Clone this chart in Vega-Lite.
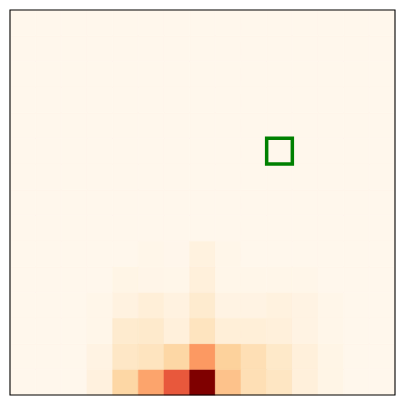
{
  "$schema": "https://vega.github.io/schema/vega-lite/v6.json",
  "width": 385,
  "height": 385,
  "autosize": {"type": "none"},
  "padding": {"left": 10, "top": 10, "right": 10, "bottom": 10},
  "background": "white",
  "config": {"view": {"stroke": null, "fill": "#fff7ec"}},
  "datasets": {
    "cells": [
      {"r":0,"c":0,"v":0},{"r":0,"c":1,"v":0},{"r":0,"c":2,"v":0},{"r":0,"c":3,"v":0.05},{"r":0,"c":4,"v":0.23},{"r":0,"c":5,"v":0.44},{"r":0,"c":6,"v":0.66},{"r":0,"c":7,"v":1},{"r":0,"c":8,"v":0.34},{"r":0,"c":9,"v":0.18},{"r":0,"c":10,"v":0.14},{"r":0,"c":11,"v":0.06},{"r":0,"c":12,"v":0.02},{"r":0,"c":13,"v":0},{"r":0,"c":14,"v":0},
      {"r":1,"c":0,"v":0},{"r":1,"c":1,"v":0},{"r":1,"c":2,"v":0},{"r":1,"c":3,"v":0.03},{"r":1,"c":4,"v":0.13},{"r":1,"c":5,"v":0.15},{"r":1,"c":6,"v":0.23},{"r":1,"c":7,"v":0.47},{"r":1,"c":8,"v":0.26},{"r":1,"c":9,"v":0.18},{"r":1,"c":10,"v":0.12},{"r":1,"c":11,"v":0.06},{"r":1,"c":12,"v":0.02},{"r":1,"c":13,"v":0},{"r":1,"c":14,"v":0},
      {"r":2,"c":0,"v":0},{"r":2,"c":1,"v":0},{"r":2,"c":2,"v":0},{"r":2,"c":3,"v":0.01},{"r":2,"c":4,"v":0.1},{"r":2,"c":5,"v":0.11},{"r":2,"c":6,"v":0.06},{"r":2,"c":7,"v":0.15},{"r":2,"c":8,"v":0.07},{"r":2,"c":9,"v":0.07},{"r":2,"c":10,"v":0.06},{"r":2,"c":11,"v":0.03},{"r":2,"c":12,"v":0.01},{"r":2,"c":13,"v":0},{"r":2,"c":14,"v":0},
      {"r":3,"c":0,"v":0},{"r":3,"c":1,"v":0},{"r":3,"c":2,"v":0},{"r":3,"c":3,"v":0.01},{"r":3,"c":4,"v":0.04},{"r":3,"c":5,"v":0.07},{"r":3,"c":6,"v":0.04},{"r":3,"c":7,"v":0.1},{"r":3,"c":8,"v":0.03},{"r":3,"c":9,"v":0.03},{"r":3,"c":10,"v":0.045},{"r":3,"c":11,"v":0.03},{"r":3,"c":12,"v":0.01},{"r":3,"c":13,"v":0},{"r":3,"c":14,"v":0},
      {"r":4,"c":0,"v":0},{"r":4,"c":1,"v":0},{"r":4,"c":2,"v":0},{"r":4,"c":3,"v":0},{"r":4,"c":4,"v":0.02},{"r":4,"c":5,"v":0.015},{"r":4,"c":6,"v":0.01},{"r":4,"c":7,"v":0.06},{"r":4,"c":8,"v":0.01},{"r":4,"c":9,"v":0.01},{"r":4,"c":10,"v":0.01},{"r":4,"c":11,"v":0.01},{"r":4,"c":12,"v":0},{"r":4,"c":13,"v":0},{"r":4,"c":14,"v":0},
      {"r":5,"c":0,"v":0},{"r":5,"c":1,"v":0},{"r":5,"c":2,"v":0},{"r":5,"c":3,"v":0},{"r":5,"c":4,"v":0},{"r":5,"c":5,"v":0.01},{"r":5,"c":6,"v":0.005},{"r":5,"c":7,"v":0.045},{"r":5,"c":8,"v":0.01},{"r":5,"c":9,"v":0},{"r":5,"c":10,"v":0},{"r":5,"c":11,"v":0},{"r":5,"c":12,"v":0},{"r":5,"c":13,"v":0},{"r":5,"c":14,"v":0},
      {"r":6,"c":0,"v":0},{"r":6,"c":1,"v":0},{"r":6,"c":2,"v":0},{"r":6,"c":3,"v":0},{"r":6,"c":4,"v":0},{"r":6,"c":5,"v":0},{"r":6,"c":6,"v":0},{"r":6,"c":7,"v":0},{"r":6,"c":8,"v":0},{"r":6,"c":9,"v":0},{"r":6,"c":10,"v":0},{"r":6,"c":11,"v":0},{"r":6,"c":12,"v":0},{"r":6,"c":13,"v":0},{"r":6,"c":14,"v":0},
      {"r":7,"c":0,"v":0},{"r":7,"c":1,"v":0},{"r":7,"c":2,"v":0},{"r":7,"c":3,"v":0},{"r":7,"c":4,"v":0},{"r":7,"c":5,"v":0},{"r":7,"c":6,"v":0},{"r":7,"c":7,"v":0},{"r":7,"c":8,"v":0},{"r":7,"c":9,"v":0},{"r":7,"c":10,"v":0},{"r":7,"c":11,"v":0},{"r":7,"c":12,"v":0},{"r":7,"c":13,"v":0},{"r":7,"c":14,"v":0},
      {"r":8,"c":0,"v":0},{"r":8,"c":1,"v":0},{"r":8,"c":2,"v":0},{"r":8,"c":3,"v":0},{"r":8,"c":4,"v":0},{"r":8,"c":5,"v":0},{"r":8,"c":6,"v":0},{"r":8,"c":7,"v":0},{"r":8,"c":8,"v":0},{"r":8,"c":9,"v":0},{"r":8,"c":10,"v":0},{"r":8,"c":11,"v":0},{"r":8,"c":12,"v":0},{"r":8,"c":13,"v":0},{"r":8,"c":14,"v":0},
      {"r":9,"c":0,"v":0},{"r":9,"c":1,"v":0},{"r":9,"c":2,"v":0},{"r":9,"c":3,"v":0},{"r":9,"c":4,"v":0},{"r":9,"c":5,"v":0},{"r":9,"c":6,"v":0},{"r":9,"c":7,"v":0},{"r":9,"c":8,"v":0},{"r":9,"c":9,"v":0},{"r":9,"c":10,"v":0},{"r":9,"c":11,"v":0},{"r":9,"c":12,"v":0},{"r":9,"c":13,"v":0},{"r":9,"c":14,"v":0},
      {"r":10,"c":0,"v":0},{"r":10,"c":1,"v":0},{"r":10,"c":2,"v":0},{"r":10,"c":3,"v":0},{"r":10,"c":4,"v":0},{"r":10,"c":5,"v":0},{"r":10,"c":6,"v":0},{"r":10,"c":7,"v":0},{"r":10,"c":8,"v":0},{"r":10,"c":9,"v":0},{"r":10,"c":10,"v":0},{"r":10,"c":11,"v":0},{"r":10,"c":12,"v":0},{"r":10,"c":13,"v":0},{"r":10,"c":14,"v":0},
      {"r":11,"c":0,"v":0},{"r":11,"c":1,"v":0},{"r":11,"c":2,"v":0},{"r":11,"c":3,"v":0},{"r":11,"c":4,"v":0},{"r":11,"c":5,"v":0},{"r":11,"c":6,"v":0},{"r":11,"c":7,"v":0},{"r":11,"c":8,"v":0},{"r":11,"c":9,"v":0},{"r":11,"c":10,"v":0},{"r":11,"c":11,"v":0},{"r":11,"c":12,"v":0},{"r":11,"c":13,"v":0},{"r":11,"c":14,"v":0},
      {"r":12,"c":0,"v":0},{"r":12,"c":1,"v":0},{"r":12,"c":2,"v":0},{"r":12,"c":3,"v":0},{"r":12,"c":4,"v":0},{"r":12,"c":5,"v":0},{"r":12,"c":6,"v":0},{"r":12,"c":7,"v":0},{"r":12,"c":8,"v":0},{"r":12,"c":9,"v":0},{"r":12,"c":10,"v":0},{"r":12,"c":11,"v":0},{"r":12,"c":12,"v":0},{"r":12,"c":13,"v":0},{"r":12,"c":14,"v":0},
      {"r":13,"c":0,"v":0},{"r":13,"c":1,"v":0},{"r":13,"c":2,"v":0},{"r":13,"c":3,"v":0},{"r":13,"c":4,"v":0},{"r":13,"c":5,"v":0},{"r":13,"c":6,"v":0},{"r":13,"c":7,"v":0},{"r":13,"c":8,"v":0},{"r":13,"c":9,"v":0},{"r":13,"c":10,"v":0},{"r":13,"c":11,"v":0},{"r":13,"c":12,"v":0},{"r":13,"c":13,"v":0},{"r":13,"c":14,"v":0},
      {"r":14,"c":0,"v":0},{"r":14,"c":1,"v":0},{"r":14,"c":2,"v":0},{"r":14,"c":3,"v":0},{"r":14,"c":4,"v":0},{"r":14,"c":5,"v":0},{"r":14,"c":6,"v":0},{"r":14,"c":7,"v":0},{"r":14,"c":8,"v":0},{"r":14,"c":9,"v":0},{"r":14,"c":10,"v":0},{"r":14,"c":11,"v":0},{"r":14,"c":12,"v":0},{"r":14,"c":13,"v":0},{"r":14,"c":14,"v":0}
    ],
    "highlight": [{"r": 9, "c": 10}],
    "frame": [{"k": 1}]
  },
  "layer": [
    {
      "data": {"name": "cells"},
      "mark": {"type": "rect", "strokeWidth": 0.6},
      "encoding": {
        "x": {"field": "c", "type": "ordinal", "scale": {"domain": [0,1,2,3,4,5,6,7,8,9,10,11,12,13,14], "paddingInner": 0, "paddingOuter": 0}, "axis": null},
        "y": {"field": "r", "type": "ordinal", "scale": {"domain": [14,13,12,11,10,9,8,7,6,5,4,3,2,1,0], "paddingInner": 0, "paddingOuter": 0}, "axis": null},
        "color": {"field": "v", "type": "quantitative", "scale": {"domain": [0, 1], "range": ["#fff7ec","#fee8c8","#fdd49e","#fdbb84","#fc8d59","#ef6548","#d7301f","#b30000","#7f0000"]}, "legend": null},
        "stroke": {"field": "v", "type": "quantitative", "scale": {"domain": [0, 1], "range": ["#fff7ec","#fee8c8","#fdd49e","#fdbb84","#fc8d59","#ef6548","#d7301f","#b30000","#7f0000"]}, "legend": null}
      }
    },
    {
      "data": {"name": "highlight"},
      "mark": {"type": "rect", "filled": false, "fill": null, "stroke": "green", "strokeWidth": 3.5},
      "encoding": {
        "x": {"field": "c", "type": "ordinal", "axis": null},
        "y": {"field": "r", "type": "ordinal", "axis": null}
      }
    },
    {
      "data": {"name": "frame"},
      "mark": {"type": "rect", "filled": false, "fill": null, "stroke": "black", "strokeWidth": 1.1},
      "encoding": {}
    }
  ]
}
